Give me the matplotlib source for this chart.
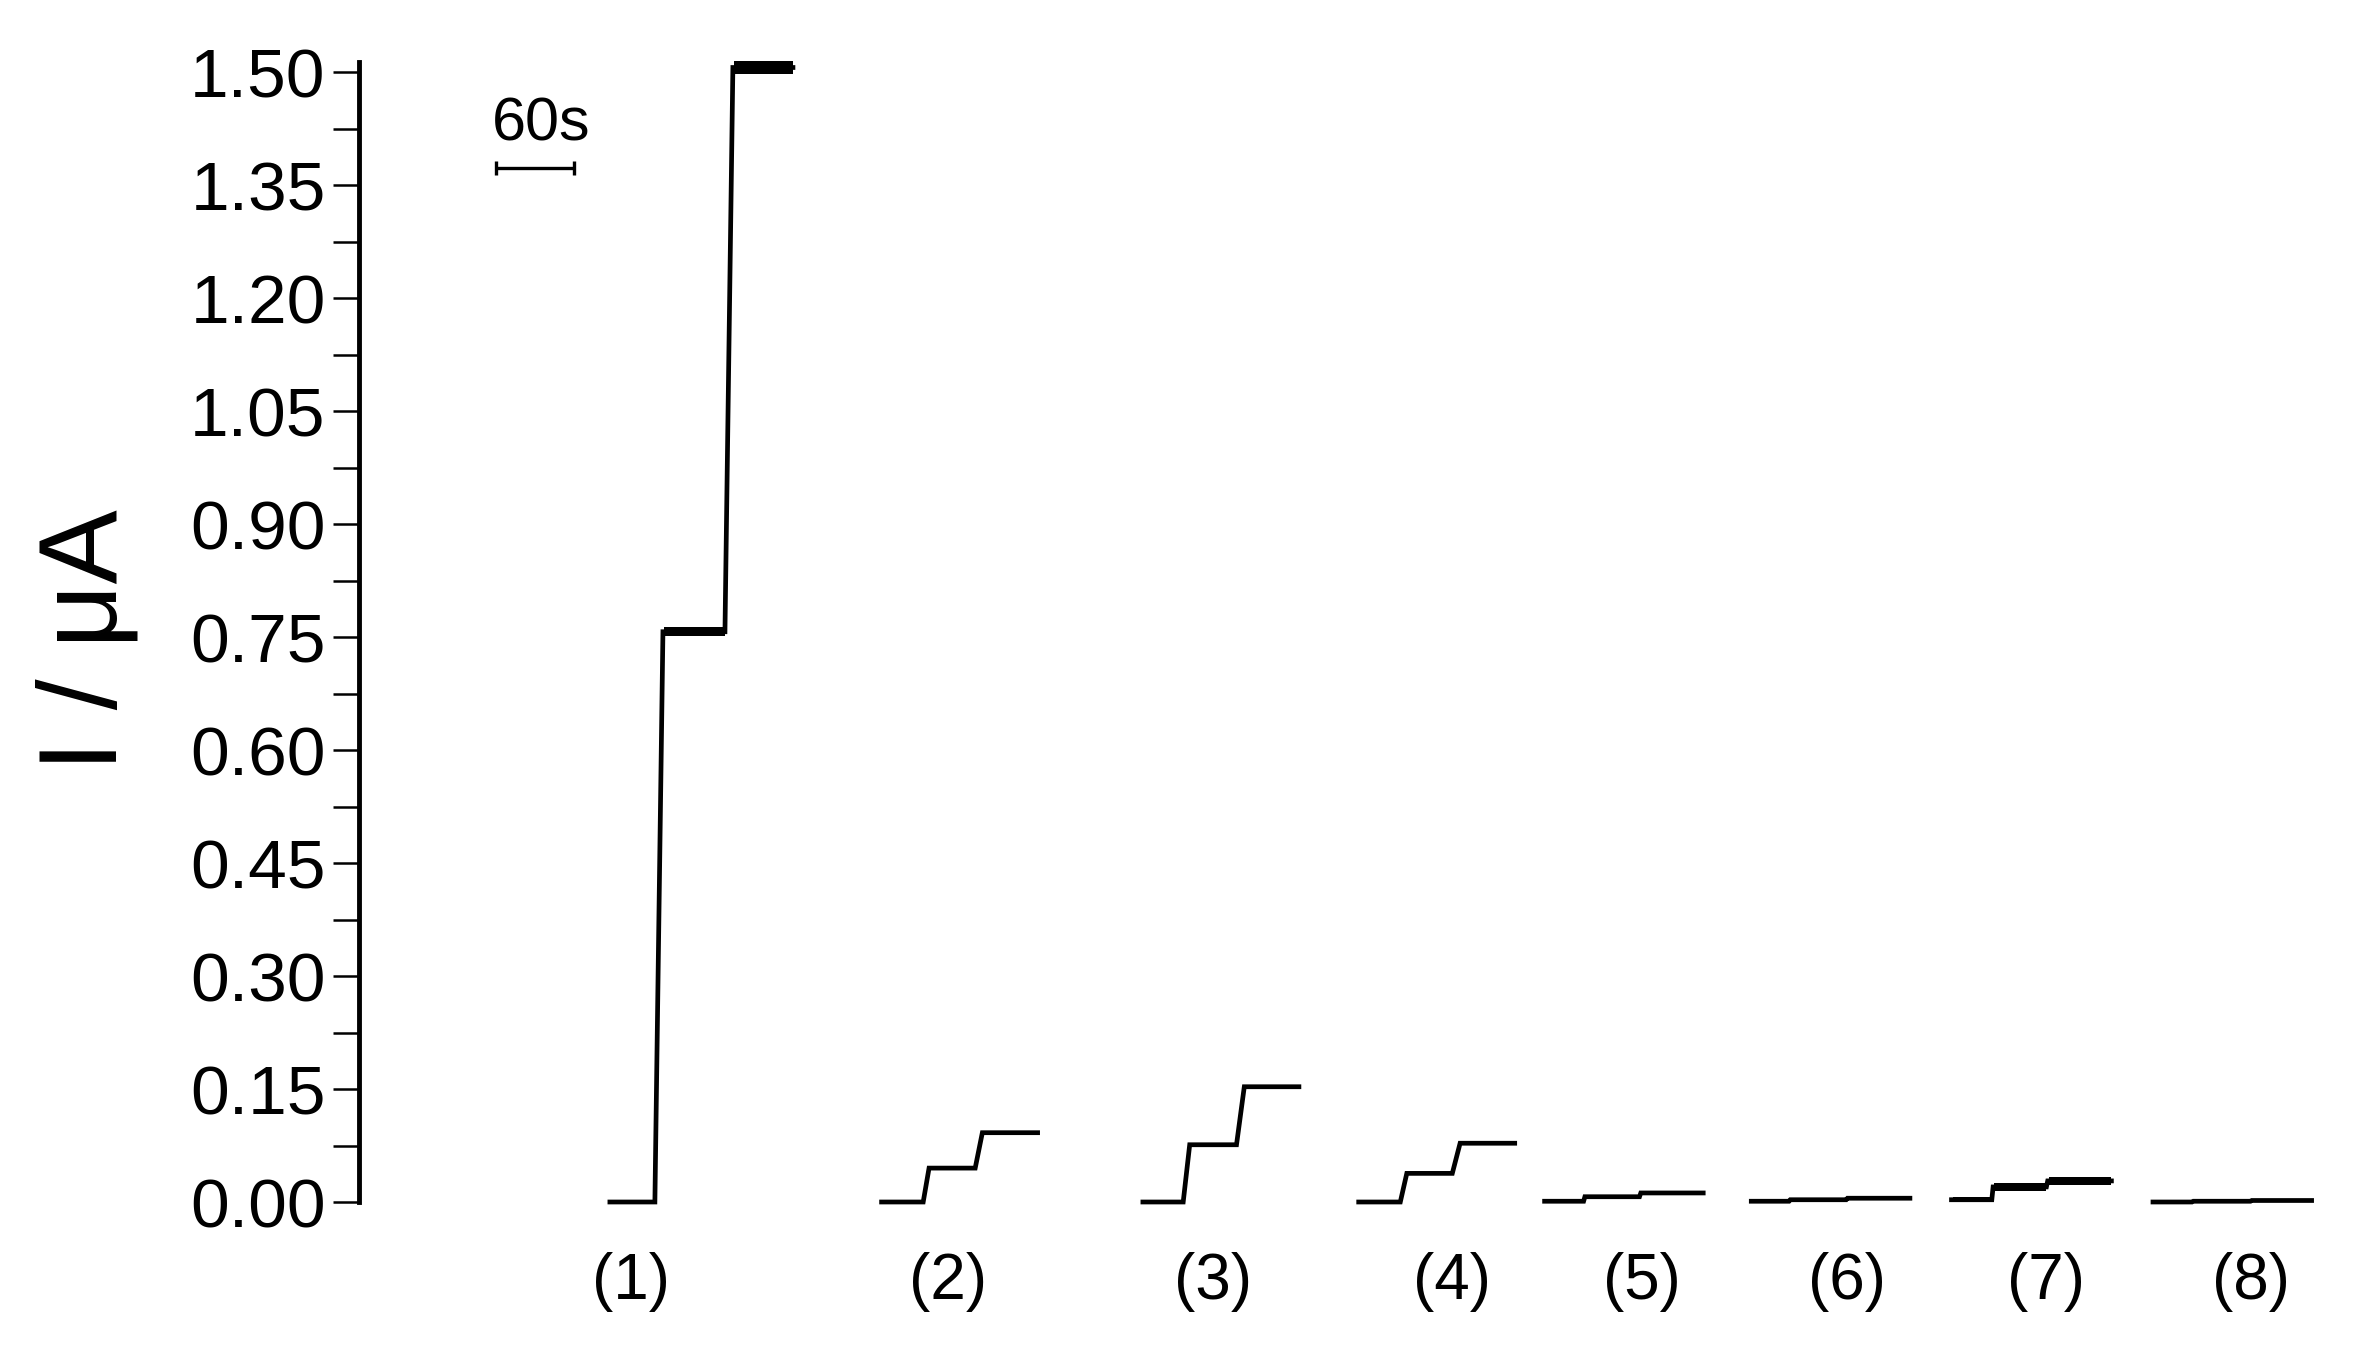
import matplotlib
matplotlib.use("Agg")
import matplotlib.pyplot as plt
import numpy as np

plt.rcParams["font.family"] = ["Liberation Sans", "DejaVu Sans"]

# sample labels under each trace
TRACE_LABELS = ["(1)", "(2)", "(3)", "(4)", "(5)", "(6)", "(7)", "(8)"]

# start of each recording on the shared time axis (s)
TRACE_START = [193, 402, 603, 769, 912, 1071, 1225, 1380]

# time (s, relative to each trace start) and current (uA) of every trace
TRACE_TIME = [
    [0, 34.6, 40.8, 88.5, 94.6, 140.8],
    [0, 32.0, 36.5, 72.0, 77.5, 120.0],
    [0, 31.0, 36.0, 72.0, 78.0, 120.0],
    [0, 32.0, 37.0, 72.0, 78.0, 120.0],
    [0, 30.0, 31.0, 73.0, 74.0, 122.0],
    [0, 29.0, 30.0, 73.0, 74.0, 122.0],
    [0, 31.0, 32.0, 73.0, 74.0, 123.0],
    [0, 30.0, 31.0, 75.0, 76.0, 122.0],
]
TRACE_CURRENT = [
    [0.000, 0.000, 0.757, 0.757, 1.506, 1.506],
    [0.000, 0.000, 0.045, 0.045, 0.092, 0.092],
    [0.000, 0.000, 0.076, 0.076, 0.153, 0.153],
    [0.000, 0.000, 0.038, 0.038, 0.078, 0.078],
    [0.001, 0.001, 0.007, 0.007, 0.012, 0.012],
    [0.001, 0.001, 0.003, 0.003, 0.005, 0.005],
    [0.003, 0.003, 0.020, 0.020, 0.028, 0.028],
    [0.000, 0.000, 0.001, 0.001, 0.002, 0.002],
]
# half-width of the noise band on each plateau (uA)
TRACE_NOISE = [
    [0.003, 0.006, 0.009],
    [0.001, 0.001, 0.001],
    [0.001, 0.001, 0.001],
    [0.001, 0.001, 0.001],
    [0.002, 0.002, 0.002],
    [0.001, 0.001, 0.001],
    [0.003, 0.005, 0.005],
    [0.001, 0.001, 0.001],
]

# label positions on the time axis (s)
LABEL_TIME = [209, 453, 657, 841, 987, 1145, 1298, 1455]

Y_TICKS = [0.00, 0.15, 0.30, 0.45, 0.60, 0.75, 0.90, 1.05, 1.20, 1.35, 1.50]

SCALE_BAR = [105, 165]  # 60 s
SCALE_BAR_Y = 1.373


def main() -> None:
    fig = plt.figure(figsize=(23.53, 13.64), dpi=100)
    ax = fig.add_axes([359 / 2353, 162 / 1364, 1982.5 / 2353, 1140 / 1364])

    for start, t, i, noise in zip(
        TRACE_START, TRACE_TIME, TRACE_CURRENT, TRACE_NOISE
    ):
        t = np.asarray(t) + start
        i = np.asarray(i)
        ax.plot(t, i, color="black", lw=3.4, clip_on=False,
                solid_joinstyle="miter")
        for k, n in enumerate(noise):
            a, b = 2 * k, 2 * k + 1
            ax.fill_between(
                [t[a] + 1, t[b]],
                [i[a] - n, i[b] - n],
                [i[a] + n, i[b] + n],
                color="black", lw=0, clip_on=False,
            )

    ax.set_xlim(0, 1525)
    ax.set_ylim(0, 1.5133)

    ax.set_yticks(Y_TICKS)
    ax.set_yticklabels([f"{v:.2f}" for v in Y_TICKS])
    ax.set_yticks(np.arange(0.075, 1.5, 0.15), minor=True)
    ax.tick_params(axis="y", which="both", direction="out", length=19,
                   width=1.8, labelsize=50, pad=5)

    ax.set_xticks(LABEL_TIME)
    ax.set_xticklabels(TRACE_LABELS)
    ax.tick_params(axis="x", length=0, labelsize=46, pad=36)

    for side in ["top", "right", "bottom"]:
        ax.spines[side].set_visible(False)
    ax.spines["left"].set_linewidth(3.5)

    fig.text(87 / 2353, 1 - 640 / 1364, "I / \u03bcA", fontsize=80,
             rotation=90, ha="center", va="center")

    # 60 s scale bar
    ax.errorbar(
        [(SCALE_BAR[0] + SCALE_BAR[1]) / 2], [SCALE_BAR_Y],
        xerr=[(SCALE_BAR[1] - SCALE_BAR[0]) / 2],
        color="black", lw=2.4, capsize=5, capthick=2.4, fmt="none",
    )
    ax.text((SCALE_BAR[0] + SCALE_BAR[1]) / 2 + 5, 1.43, "60s",
            ha="center", va="center", fontsize=44)

    fig.savefig("out.png", dpi=100)
    plt.close(fig)


if __name__ == "__main__":
    main()
